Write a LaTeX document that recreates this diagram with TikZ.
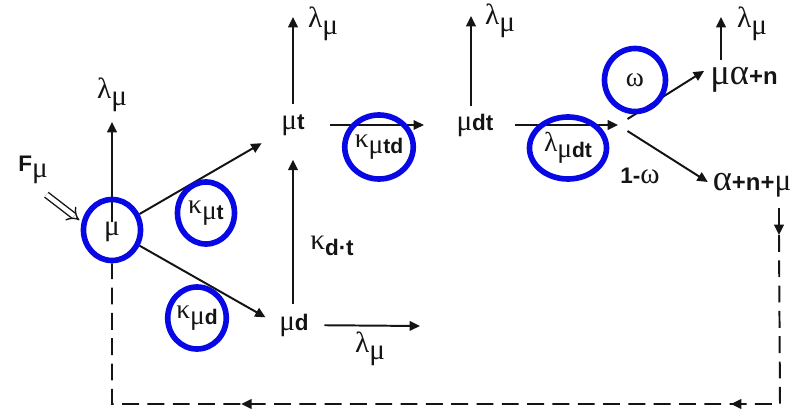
\documentclass[tikz,border=0pt]{standalone}
\usepackage{fontspec}
\setmainfont{Liberation Sans}
\newfontfamily\grk[Scale=1.3]{Liberation Serif}
\usetikzlibrary{arrows.meta,shapes.geometric,decorations.markings,backgrounds}
\definecolor{ringblue}{RGB}{8,8,228}
\definecolor{ink}{RGB}{20,20,20}
\newcommand{\gk}[1]{{\grk #1}}
\newcommand{\bgk}[1]{{\grk\fontsize{20}{22}\selectfont #1}}
\newcommand{\lo}[1]{\raisebox{-0.55ex}{#1}}
\tikzset{
  >={Triangle[length=2.6mm,width=2.4mm]},
  lbl/.style={font=\fontsize{16}{18}\selectfont,inner sep=0pt,text=ink},
  rate/.style={font=\fontsize{16}{18}\selectfont,inner sep=0pt,text=ink},
  ring/.style 2 args={ellipse,draw=ringblue,line width=4pt,minimum width=#1,
    minimum height=#2,inner sep=0pt,text=ink,font=\fontsize{15}{17}\selectfont},
  flow/.style={->,line width=1.4pt,draw=ink},
  back/.style={line width=1.4pt,draw=ink,dash pattern=on 12pt off 6pt,
    postaction={decorate},decoration={markings,
      mark=at position 0.223 with {\arrow{>}},
      mark=at position 0.724 with {\arrow{>}}}},
  feed/.style={double=white,double distance=3.2pt,line width=1pt,draw=ink,-{Implies}},
}
\begin{document}
\begin{tikzpicture}[x=0.025cm,y=-0.025cm]
  \useasboundingbox (0,0) rectangle (798,413);
  % states
  \node[lbl] (mu) at (112,232) {\gk{μ}};
  \node[ring={1.425cm}{1.525cm}] (mucirc) at (112,230) {};
  \node[lbl] (Fmu) at (33,170) {\textbf{F}\lo{\gk{μ}}};
  \node[lbl] (mut) at (293,125) {\gk{μ}\textbf{t}};
  \node[lbl] (mud) at (294,325) {\gk{μ}\textbf{d}};
  \node[lbl] (mudt) at (475,125) {\gk{μ}\textbf{dt}};
  \node[lbl,font=\fontsize{17}{19}\selectfont] (mua) at (744,80) {\bgk{μα}\textbf{+n}};
  \node[lbl,font=\fontsize{17}{19}\selectfont] (anm) at (752,185) {\bgk{α}\textbf{+n+}\gk{μ}};
  % free ends
  \coordinate (muTop) at (112,122);
  \coordinate (mutTop) at (293,17);
  \coordinate (mudtTop) at (471,16);
  \coordinate (muaTop) at (721,17);
  \coordinate (mudEnd) at (420,326);
  \coordinate (branch) at (618,125);
  \coordinate (dropTip) at (779,235);
  \coordinate (loopR) at (780,404);
  \coordinate (loopL) at (112,404);
  % rates
  \node[rate] (lamA) at (112,95) {\gk{λ}\lo{\gk{μ}}};
  \node[rate] (lamB) at (323,24) {\gk{λ}\lo{\gk{μ}}};
  \node[rate] (lamC) at (500,21) {\gk{λ}\lo{\gk{μ}}};
  \node[rate] (lamD) at (752,24) {\gk{λ}\lo{\gk{μ}}};
  \node[rate] (lamE) at (370,349) {\gk{λ}\lo{\gk{μ}}};
  \node[rate] (kdt) at (332,246) {\gk{κ}\lo{\textbf{d·t}}};
  \node[rate] (omb) at (640,176) {\textbf{1-}\gk{ω}};
  % circled rates
  \node[ring={1.425cm}{1.55cm}] (kmt) at (206,213) {\gk{κ}\lo{\gk{μ}\textbf{t}}};
  \node[ring={1.4cm}{1.55cm}] (kmd) at (197,318) {\gk{κ}\lo{\gk{μ}\textbf{d}}};
  \node[ring={1.45cm}{1.6cm}] (kmtd) at (379,147) {\gk{κ}\lo{\gk{μ}\textbf{td}}};
  \node[ring={1.925cm}{1.55cm}] (lmdt) at (568,148) {\gk{λ}\lo{\gk{μ}\textbf{dt}}};
  \node[ring={1.525cm}{1.575cm}] (om) at (635,80) {\gk{ω}};
  \begin{scope}[on background layer]
    \draw[feed,shorten <=12pt,shorten >=2pt] (Fmu.south) -- (mucirc.165);
    \draw[flow] (mu) -- (muTop);
    \draw[flow,shorten >=16pt] (mucirc) -- (mut);
    \draw[flow,shorten >=11pt] (mucirc) -- (mud.west);
    \draw[flow,shorten <=7pt,shorten >=17pt] (mud.north -| mut) -- (mut);
    \draw[flow,shorten <=7pt] (mut) -- (mutTop);
    \draw[flow,shorten <=18pt,shorten >=23pt] (mut) -- (mudt);
    \draw[flow,shorten <=5pt] (mudt.north -| mudtTop) -- (mudtTop);
    \draw[flow,shorten <=11pt] (mud) -- (mudEnd);
    \draw[flow,shorten <=15pt] (mudt) -- (branch);
    \draw[flow,shorten <=8pt,shorten >=5pt] (branch) -- (mua.north west);
    \draw[flow,shorten <=8pt,shorten >=4pt] (branch) -- (anm.west);
    \draw[flow,shorten <=5pt] (mua.north -| muaTop) -- (muaTop);
    \draw[flow,shorten <=8pt] (anm.south -| dropTip) -- (dropTip);
    \draw[back] (dropTip) -- (loopR) -- (loopL) -- (mucirc);
  \end{scope}
\end{tikzpicture}
\end{document}
